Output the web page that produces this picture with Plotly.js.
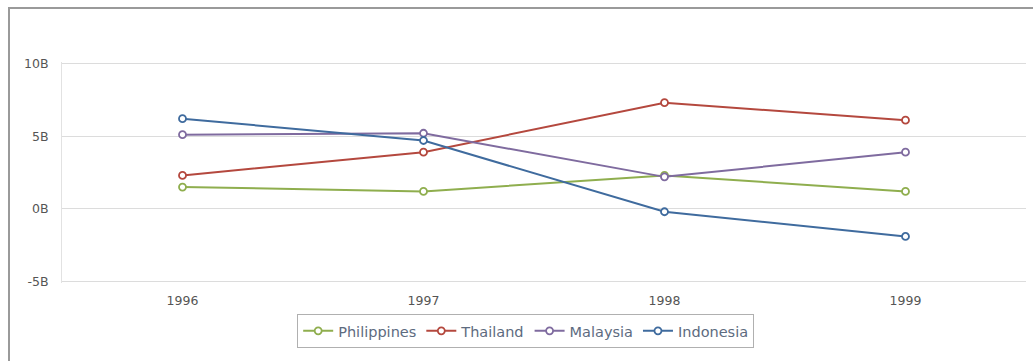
<!DOCTYPE html>
<html>
<head>
<meta charset="utf-8">
<script src="https://cdn.plot.ly/plotly-3.0.1.min.js"></script>
<style>
  html, body { margin: 0; padding: 0; background: #fff; }
  #wrap { position: relative; width: 1033px; height: 361px; overflow: hidden; }
  #chart { position: absolute; left: 0; top: 0; width: 1033px; height: 361px; }
  #frame {
    position: absolute; left: 8px; top: 7px; width: 1040px; height: 370px;
    border-left: 2px solid #9a9a9a; border-top: 2px solid #9a9a9a;
    pointer-events: none;
  }
</style>
</head>
<body>
<div id="wrap">
  <div id="chart"></div>
  <div id="frame"></div>
</div>
<script>
// Years on the category axis
const years = ['1996', '1997', '1998', '1999'];

// Values in billions
const philippines = [1.5, 1.2, 2.3, 1.2];
const thailand    = [2.3, 3.9, 7.3, 6.1];
const malaysia    = [5.1, 5.2, 2.2, 3.9];
const indonesia   = [6.2, 4.7, -0.2, -1.9];

// Value-axis ticks (plain hyphen for negatives)
const yTickVals = [-5, 0, 5, 10];
const yTickText = ['-5B', '0B', '5B', '10B'];

const seriesNames  = ['Philippines', 'Thailand', 'Malaysia', 'Indonesia'];
const seriesValues = [philippines, thailand, malaysia, indonesia];
const seriesColors = ['#8fae4e', '#b4483e', '#7f6b9f', '#3f6b9e'];

const traces = seriesNames.map((name, i) => ({
  type: 'scatter',
  mode: 'lines+markers',
  name: name,
  x: years,
  y: seriesValues[i],
  line: { color: seriesColors[i], width: 2 },
  marker: {
    symbol: 'circle',
    size: 7,
    color: '#ffffff',
    line: { color: seriesColors[i], width: 1.8 }
  }
}));

const layout = {
  width: 1033,
  height: 361,
  margin: { l: 62, r: 7, t: 62, b: 78 },
  paper_bgcolor: '#ffffff',
  plot_bgcolor: '#ffffff',
  font: { family: '"DejaVu Sans", Verdana, sans-serif', color: '#555555', size: 12 },
  showlegend: true,
  legend: {
    orientation: 'h',
    x: 0.481,
    xanchor: 'center',
    y: -0.14,
    yanchor: 'top',
    bordercolor: '#b0b0b0',
    borderwidth: 1,
    font: { family: '"DejaVu Sans", Verdana, sans-serif', size: 14.5, color: '#5d6b80' },
    itemwidth: 30
  },
  xaxis: {
    type: 'category',
    range: [-0.5, 3.5],
    showgrid: false,
    zeroline: false,
    showline: false,
    ticks: 'outside',
    ticklen: 6,
    tickcolor: 'rgba(0,0,0,0)',
    tickfont: { size: 12.5, color: '#555555' }
  },
  yaxis: {
    range: [-5.1, 10.1],
    tickmode: 'array',
    tickvals: yTickVals,
    ticktext: yTickText,
    showgrid: true,
    gridcolor: '#dcdcdc',
    gridwidth: 1,
    zeroline: false,
    showline: true,
    linecolor: '#e2e2e2',
    ticks: 'outside',
    ticklen: 10,
    tickcolor: 'rgba(0,0,0,0)',
    tickfont: { size: 12.5, color: '#555555' }
  }
};

Plotly.newPlot('chart', traces, layout, { displayModeBar: false, staticPlot: true });
</script>
</body>
</html>
